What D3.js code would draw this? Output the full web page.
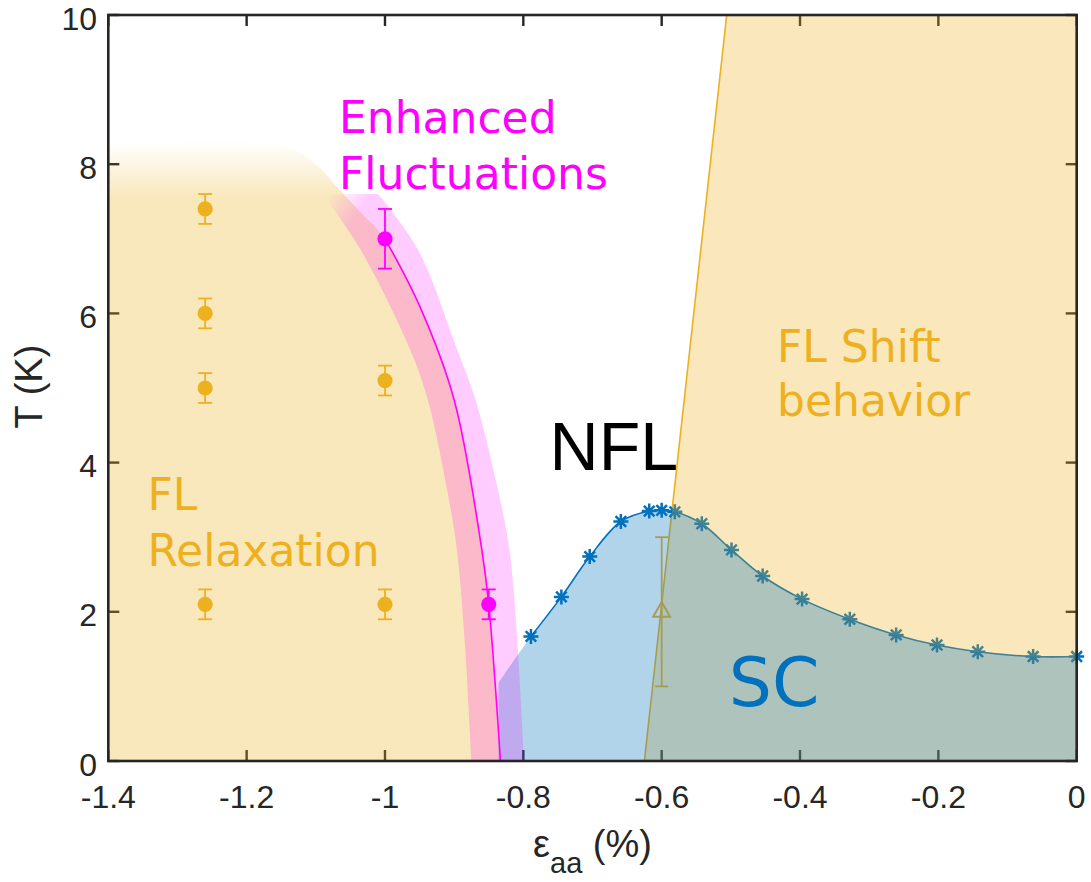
<!DOCTYPE html>
<html>
<head>
<meta charset="utf-8">
<script src="https://cdn.jsdelivr.net/npm/d3@7"></script>
<style>
  html, body { margin: 0; padding: 0; background: #fff; }
  svg { display: block; }
</style>
</head>
<body>
<svg id="chart" width="1091" height="882"></svg>
<script>
// ---- axis ticks ----
const xTickValues = [-1.4, -1.2, -1, -0.8, -0.6, -0.4, -0.2, 0];
const xTickLabels = ["-1.4", "-1.2", "-1", "-0.8", "-0.6", "-0.4", "-0.2", "0"];
const yTickValues = [0, 2, 4, 6, 8, 10];
const yTickLabels = ["0", "2", "4", "6", "8", "10"];

// ---- superconducting Tc (asterisks) ----
const scStrain = [-0.789, -0.745, -0.704, -0.659, -0.618, -0.600, -0.581, -0.542, -0.499,
                  -0.454, -0.397, -0.328, -0.261, -0.202, -0.143, -0.063, 0];
const scTc     = [1.67, 2.20, 2.74, 3.21, 3.35, 3.36, 3.34, 3.18, 2.83,
                  2.48, 2.17, 1.90, 1.69, 1.555, 1.465, 1.40, 1.40];
const scFillStart = [-0.836, 1.05];

// ---- FL relaxation points ----
const relaxStrain = [-1.26, -1.26, -1.26, -1.26, -1.0, -1.0];
const relaxT      = [7.4, 6.0, 5.0, 2.1, 5.1, 2.1];
const relaxErr    = [0.2, 0.2, 0.2, 0.2, 0.2, 0.2];

// ---- enhanced fluctuation points and boundary ----
const fluctStrain = [-1.0, -0.85];
const fluctT      = [7.0, 2.1];
const fluctErr    = [0.4, 0.2];
const fluctLineStrain = [-1.0, -0.95, -0.9, -0.86, -0.85, -0.833];
const fluctLineT      = [7.0, 6.1, 4.84, 2.83, 2.1, 0];

// fluctuation band (left / right edge at each temperature)
const bandT     = [0, 1.5, 2.83, 3.77, 4.84, 5.5, 6.85, 7.6];
const bandLeft  = [-0.875, -0.884, -0.896, -0.913, -0.938, -0.963, -1.035, -1.09];
const bandRight = [-0.799, -0.808, -0.820, -0.840, -0.869, -0.895, -0.952, -1.01];

// upper edge of the FL relaxation region
const relaxEdgeStrain = [-1.4, -1.15, -1.1, -1.07, -1.04];
const relaxEdgeT      = [8.25, 8.25, 8.0, 7.7, 7.4];

// ---- FL shift boundary ----
const shiftStrain = [-0.625, -0.506];
const shiftT      = [0, 10];

// onset of the shift (triangle)
const onsetStrain = [-0.6];
const onsetT      = [2.0];
const onsetErr    = [1.0];

// ---- colours ----
const cOrange = "#EDB120";
const cBlue = "#0072BD";
const cMagenta = "#FF00FF";
const cAxis = "#262626";

const svg = d3.select("#chart");
const x = d3.scaleLinear().domain([-1.4, 0]).range([108.3, 1076.7]);
const y = d3.scaleLinear().domain([0, 10]).range([761, 15]);
const smooth = d3.curveCatmullRom.alpha(0.5);
const zip = (a, b) => a.map((v, i) => [v, b[i]]);

const defs = svg.append("defs");

// vertical fade at the top of the FL relaxation region
const fade = defs.append("linearGradient").attr("id", "relaxFade")
  .attr("gradientUnits", "userSpaceOnUse")
  .attr("x1", 0).attr("x2", 0).attr("y1", y(8.3)).attr("y2", y(7.55));
fade.append("stop").attr("offset", 0).attr("stop-color", cOrange).attr("stop-opacity", 0);
fade.append("stop").attr("offset", 1).attr("stop-color", cOrange).attr("stop-opacity", 0.3);

// diagonal fade at the top of the fluctuation band
const bandGrad = defs.append("linearGradient").attr("id", "bandGrad")
  .attr("gradientUnits", "userSpaceOnUse")
  .attr("x1", x(-1.09)).attr("y1", y(7.45)).attr("x2", x(-1.05)).attr("y2", y(7.2));
bandGrad.append("stop").attr("offset", 0).attr("stop-color", "#000");
bandGrad.append("stop").attr("offset", 1).attr("stop-color", "#fff");
defs.append("mask").attr("id", "bandMask")
  .attr("maskUnits", "userSpaceOnUse")
  .attr("x", 0).attr("y", 0).attr("width", 1091).attr("height", 882)
  .append("rect").attr("x", 0).attr("y", 0).attr("width", 1091).attr("height", 882)
  .attr("fill", "url(#bandGrad)");

// ---- ticks (drawn beneath the shaded regions) ----
const tickLen = 11;
const ticks = svg.append("g").attr("stroke", cAxis).attr("stroke-width", 2.4);
xTickValues.forEach(v => {
  ticks.append("line").attr("x1", x(v)).attr("x2", x(v)).attr("y1", y(0)).attr("y2", y(0) - tickLen);
  ticks.append("line").attr("x1", x(v)).attr("x2", x(v)).attr("y1", y(10)).attr("y2", y(10) + tickLen);
});
yTickValues.forEach(v => {
  ticks.append("line").attr("x1", x(-1.4)).attr("x2", x(-1.4) + tickLen).attr("y1", y(v)).attr("y2", y(v));
  ticks.append("line").attr("x1", x(0)).attr("x2", x(0) - tickLen).attr("y1", y(v)).attr("y2", y(v));
});

// ---- FL relaxation region ----
const relaxOutline = zip(relaxEdgeStrain, relaxEdgeT).concat(zip(fluctLineStrain, fluctLineT));
const relaxPath = d3.line().x(d => x(d[0])).y(d => y(d[1])).curve(smooth)(relaxOutline)
  + `L${x(-1.4)},${y(0)}Z`;
svg.append("path").attr("d", relaxPath).attr("fill", "url(#relaxFade)");

// ---- FL shift boundary line and onset marker ----
svg.append("path")
  .attr("d", d3.line().x(d => x(d[0])).y(d => y(d[1]))(zip(shiftStrain, shiftT)))
  .attr("stroke", cOrange).attr("stroke-width", 1.6).attr("fill", "none");

onsetStrain.forEach((s, i) => {
  const g = svg.append("g").attr("stroke", cOrange).attr("stroke-width", 1.8).attr("fill", "none");
  g.append("line").attr("x1", x(s)).attr("x2", x(s)).attr("y1", y(onsetT[i] - onsetErr[i])).attr("y2", y(onsetT[i] + onsetErr[i]));
  [onsetT[i] - onsetErr[i], onsetT[i] + onsetErr[i]].forEach(t => {
    g.append("line").attr("x1", x(s) - 6.5).attr("x2", x(s) + 6.5).attr("y1", y(t)).attr("y2", y(t));
  });
  g.append("path").attr("d", d3.symbol().type(d3.symbolTriangle).size(125)())
    .attr("transform", `translate(${x(s)},${y(onsetT[i])})`).attr("stroke-width", 2);
});

// ---- SC line and asterisks ----
const scPts = zip(scStrain, scTc);
svg.append("path")
  .attr("d", d3.line().x(d => x(d[0])).y(d => y(d[1])).curve(smooth)(scPts))
  .attr("stroke", cBlue).attr("stroke-width", 1.6).attr("fill", "none");
function asterisk(r) {
  const a = r * Math.SQRT1_2;
  return `M${-r},0L${r},0M0,${-r}L0,${r}M${-a},${-a}L${a},${a}M${-a},${a}L${a},${-a}`;
}
svg.append("g").selectAll("path").data(scPts).join("path")
  .attr("d", asterisk(7.5))
  .attr("transform", d => `translate(${x(d[0])},${y(d[1])})`)
  .attr("stroke", cBlue).attr("stroke-width", 2.5).attr("fill", "none");

// ---- FL shift region ----
const shiftRegion = [[shiftStrain[0], shiftT[0]], [shiftStrain[1], shiftT[1]], [0, 10], [0, 0]];
svg.append("path")
  .attr("d", d3.line().x(d => x(d[0])).y(d => y(d[1]))(shiftRegion) + "Z")
  .attr("fill", cOrange).attr("fill-opacity", 0.3);

// ---- SC dome fill ----
svg.append("path")
  .attr("d", d3.area().x(d => x(d[0])).y0(y(0)).y1(d => y(d[1])).curve(smooth)([scFillStart].concat(scPts)))
  .attr("fill", cBlue).attr("fill-opacity", 0.3);

// ---- fluctuation band ----
const bandData = bandT.map((t, i) => ({ t, l: bandLeft[i], r: bandRight[i] }));
svg.append("path")
  .attr("d", d3.area().y(d => y(d.t)).x0(d => x(d.l)).x1(d => x(d.r)).curve(smooth)(bandData))
  .attr("fill", cMagenta).attr("fill-opacity", 0.2)
  .attr("mask", "url(#bandMask)");

// ---- fluctuation boundary and points ----
svg.append("path")
  .attr("d", d3.line().x(d => x(d[0])).y(d => y(d[1])).curve(smooth)(zip(fluctLineStrain, fluctLineT)))
  .attr("stroke", cMagenta).attr("stroke-width", 1.6).attr("fill", "none");

function errorPoints(strain, temps, errs, color) {
  const g = svg.append("g");
  strain.forEach((s, i) => {
    const lo = temps[i] - errs[i], hi = temps[i] + errs[i];
    const eg = g.append("g").attr("stroke", color).attr("stroke-width", 1.8);
    eg.append("line").attr("x1", x(s)).attr("x2", x(s)).attr("y1", y(lo)).attr("y2", y(hi));
    [lo, hi].forEach(t => eg.append("line").attr("x1", x(s) - 7).attr("x2", x(s) + 7).attr("y1", y(t)).attr("y2", y(t)));
    g.append("circle").attr("cx", x(s)).attr("cy", y(temps[i])).attr("r", 7.6).attr("fill", color);
  });
}
errorPoints(fluctStrain, fluctT, fluctErr, cMagenta);
errorPoints(relaxStrain, relaxT, relaxErr, cOrange);

// ---- region labels ----
const dejavu = "'DejaVu Sans', Verdana, sans-serif";
const helv = "'Liberation Sans', Arial, Helvetica, sans-serif";
const regionLabels = [
  { text: "Enhanced", e: -1.0665, t: 8.42, color: cMagenta, size: 44, font: dejavu },
  { text: "Fluctuations", e: -1.0665, t: 7.67, color: cMagenta, size: 44, font: dejavu },
  { text: "FL", e: -1.3433, t: 3.365, color: cOrange, size: 44, font: dejavu },
  { text: "Relaxation", e: -1.3433, t: 2.614, color: cOrange, size: 44, font: dejavu },
  { text: "FL Shift", e: -0.4332, t: 5.35, color: cOrange, size: 44, font: dejavu },
  { text: "behavior", e: -0.4332, t: 4.625, color: cOrange, size: 44, font: dejavu },
  { text: "NFL", e: -0.762, t: 3.90, color: "#000", size: 68, font: helv },
  { text: "SC", e: -0.503, t: 0.737, color: cBlue, size: 68, font: dejavu }
];
svg.append("g").selectAll("text").data(regionLabels).join("text")
  .attr("x", d => x(d.e)).attr("y", d => y(d.t))
  .attr("fill", d => d.color).attr("font-size", d => d.size).attr("font-family", d => d.font)
  .text(d => d.text);

// ---- axes box ----
svg.append("rect")
  .attr("x", x(-1.4)).attr("y", y(10)).attr("width", x(0) - x(-1.4)).attr("height", y(0) - y(10))
  .attr("fill", "none").attr("stroke", cAxis).attr("stroke-width", 2.6);

// ---- tick labels ----
const tl = svg.append("g").attr("fill", cAxis).attr("font-family", helv).attr("font-size", 32);
xTickValues.forEach((v, i) => {
  tl.append("text").attr("x", x(v)).attr("y", 808).attr("text-anchor", "middle").text(xTickLabels[i]);
});
yTickValues.forEach((v, i) => {
  tl.append("text").attr("x", 97).attr("y", y(v) + 14.5).attr("text-anchor", "end").text(yTickLabels[i]);
});

// ---- axis titles ----
const xl = svg.append("text").attr("x", (x(-1.4) + x(0)) / 2).attr("y", 857)
  .attr("text-anchor", "middle").attr("fill", cAxis).attr("font-family", helv).attr("font-size", 38);
xl.append("tspan").text("ε");
xl.append("tspan").attr("font-size", 29).attr("dy", 16).text("aa");
xl.append("tspan").attr("dy", -16).text(" (%)");

svg.append("text")
  .attr("transform", `translate(42,${(y(0) + y(10)) / 2 - 1.5}) rotate(-90)`)
  .attr("text-anchor", "middle").attr("fill", cAxis).attr("font-family", helv).attr("font-size", 38)
  .text("T (K)");
</script>
</body>
</html>
